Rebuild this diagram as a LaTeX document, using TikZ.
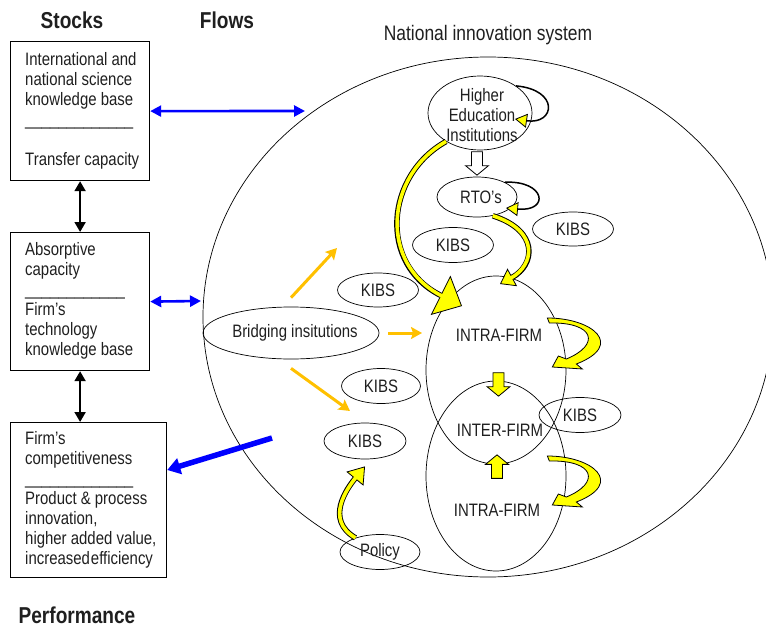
\documentclass[tikz,border=0pt]{standalone}
\usepackage{fontspec}
\setmainfont{Liberation Sans}[FakeStretch=0.83]
\usetikzlibrary{arrows.meta,calc,shapes.geometric}

\definecolor{flowblue}{RGB}{0,0,255}
\definecolor{bridgeorange}{RGB}{255,192,0}
\definecolor{hotyellow}{RGB}{255,255,0}

% zero-width text so that ellipses keep their given size
\newcommand\zw[1]{\makebox[0pt]{#1}}

% yellow outlined curved arrow: #1 tip length, #2 tip width, #3 path
\newcommand\yellowcurve[3]{%
  \draw[line width=5.5pt, black,
        -{Triangle[length=#1pt, width=#2pt, fill=hotyellow, line width=0.8pt]}] #3;
  \draw[line width=3.6pt, hotyellow, shorten >=#1pt-2pt] #3;}

\tikzset{
  txt/.style={font=\fontsize{18}{20}\selectfont, text=black!88},
  hdr/.style={font=\fontsize{23}{26}\selectfont\bfseries, text=black!88},
  stockbox/.style={draw, line width=1.2pt, anchor=north west, inner sep=0},
  oval/.style={ellipse, draw, line width=0.7pt, inner sep=0, txt},
  blk/.style={line width=2pt, black,
    {Triangle[length=10pt, width=11pt]}-{Triangle[length=10pt, width=11pt]}},
  bluearr/.style={line width=2.6pt, flowblue,
    {Triangle[length=11pt, width=11pt]}-{Triangle[length=11pt, width=11pt]}},
  org/.style={line width=3pt, bridgeorange, -{Stealth[length=11pt, width=12pt, inset=2pt]}},
  selfloop/.style={line width=1.5pt, black,
    -{Triangle[length=12pt, width=14pt, fill=hotyellow, line width=0.8pt]}},
  blockarrow/.pic={\draw[pic actions, line width=0.8pt]
    (-5.5,0) -- (5.5,0) -- (5.5,14) -- (11.5,14) -- (0,23.5) -- (-11.5,14) -- (-5.5,14) -- cycle;},
  crescent/.pic={\draw[black, line width=0.8pt, fill=hotyellow]
    (0,0) .. controls (45,0) and (78,27) .. (29,46) -- (35,51) -- (5,49) -- (11,38) -- (19,41)
    .. controls (53,27) and (48,4) .. (2,5) -- cycle;}
}

\begin{document}
\begin{tikzpicture}[x=1pt, y=-1pt]
\useasboundingbox (0,0) rectangle (766,629);

% headings
\node[hdr] (stocks) at (72,20) {Stocks};
\node[hdr] (flows) at (227,20) {Flows};
\node[hdr] (perf) at (77,615) {Performance};
\node[txt, font=\fontsize{21}{24}\selectfont] (nistitle) at (488,35) {National innovation system};

% stocks and performance boxes
\node[stockbox, minimum width=139, minimum height=139] (b1) at (10,41) {};
\node[txt, anchor=west, align=left, inner sep=0] (b1t) at (25,110.5)
  {International and\\national science\\knowledge base\\
   \_\_\_\_\_\_\_\_\_\_\_\_\_\\[20pt]Transfer capacity};
\node[stockbox, minimum width=139, minimum height=138] (b2) at (10,232) {};
\node[txt, anchor=west, align=left, inner sep=0] (b2t) at (25,300.5)
  {Absorptive\\capacity\\\_\_\_\_\_\_\_\_\_\_\_\_\\Firm’s\\technology\\knowledge base};
\node[stockbox, minimum width=156, minimum height=155] (b3) at (10,422) {};
\node[txt, anchor=west, align=left, inner sep=0] (b3t) at (25,499.5)
  {Firm’s\\competitiveness\\\_\_\_\_\_\_\_\_\_\_\_\_\_\\Product \& process\\innovation,\\higher added value,\\increased\hspace{1pt}efficiency};

% national innovation system
\node[ellipse, draw, line width=0.7pt, minimum width=570, minimum height=520] (nis) at (488,317) {};

\node[oval, minimum width=104, minimum height=74] (hei) at (480,113) {};
\node[txt, align=center, inner sep=0] (heit) at (482,115) {Higher\\Education\\Institutions};
\node[oval, minimum width=80, minimum height=40] (rto) at (477,197) {\zw{\hspace{8pt}RTO’s}};

\node[oval, minimum width=81, minimum height=34] (kibs1) at (573,229) {\zw{KIBS}};
\node[oval, minimum width=81, minimum height=35] (kibs2) at (453,245) {\zw{KIBS}};
\node[oval, minimum width=81, minimum height=34] (kibs3) at (378,290) {\zw{KIBS}};
\node[oval, minimum width=176, minimum height=52] (br) at (291,333) {\zw{\hspace{8pt}Bridging insitutions}};
\node[oval, minimum width=79, minimum height=35] (kibs4) at (381,386) {\zw{KIBS}};
\node[oval, minimum width=82, minimum height=36] (kibs5) at (365,441) {\zw{KIBS}};
\node[oval, minimum width=80, minimum height=35] (pol) at (380,552) {\zw{Policy}};

% the two firm ovals overlap in the inter-firm lens
\node[oval, minimum width=140, minimum height=188] (intra1) at (496,370) {};
\node[oval, minimum width=140, minimum height=190] (intra2) at (496,476) {};
\node[oval, minimum width=82, minimum height=35] (kibs6) at (580,415) {\zw{KIBS}};
\node[txt, inner sep=0] (intra1t) at (499,335) {INTRA-FIRM};
\node[txt, inner sep=0] (intert) at (500,430) {INTER-FIRM};
\node[txt, inner sep=0] (intra2t) at (497,510) {INTRA-FIRM};

% links between the stocks
\draw[blk] (b1.south) -- (b2.north);
\draw[blk] (b2.south) -- (b2.south |- b3.north);

% flows between stocks and the system
\coordinate (nisa) at (305,111);
\coordinate (nisb) at (201,301);
\coordinate (nisc) at (272,438);
\draw[bluearr] (b1.east) -- (nisa);
\draw[bluearr] (b2.east) -- (nisb);
\draw[line width=5.5pt, flowblue, -{Triangle[length=13pt, width=16pt]}]
  (nisc) -- ([yshift=-48pt]b3.north east);

% bridging institutions
\coordinate (oa) at (337,248);
\coordinate (ob) at (422,333);
\coordinate (oc) at (350,411);
\draw[org] ([yshift=9pt]br.north) -- (oa);
\draw[org] ([xshift=9pt]br.east) -- (ob);
\draw[org] ([yshift=-9pt]br.south) -- (oc);

% knowledge flows inside the system
\pic[draw=black, fill=white] at ($(rto.north)+(0,-25)$) {blockarrow};
\yellowcurve{24}{44}{(hei.-140) .. controls +(-61,34) and +(-84,-42) .. ($(intra1.center)+(-34,-64)$)}
\yellowcurve{14}{20}{(rto.-50) .. controls +(47,15) and +(35,-19) .. ($(intra1.center)+(4,-86)$)}
\yellowcurve{16}{22}{(pol.150) .. controls +(-31,-18) and +(-18,22) .. ([yshift=-7pt]kibs5.south)}

\draw[selfloop] (hei.37) .. controls +(44,4) and +(40,6) .. ($(hei.center)+(35,6)$);
\draw[selfloop] (rto.28) .. controls +(41,-2) and +(44,4) .. ($(rto.center)+(29,11)$);

\pic[draw=black, fill=hotyellow] at ($(intra2.north)+(2.5,-8)$) {blockarrow};
\pic[draw=black, fill=hotyellow, rotate=180] at ($(intra1.south)+(1,14)$) {blockarrow};

\pic at ($(intra1.east)+(-19,-52)$) {crescent};
\pic at ($(intra2.east)+(-19,-20)$) {crescent};
\end{tikzpicture}
\end{document}
